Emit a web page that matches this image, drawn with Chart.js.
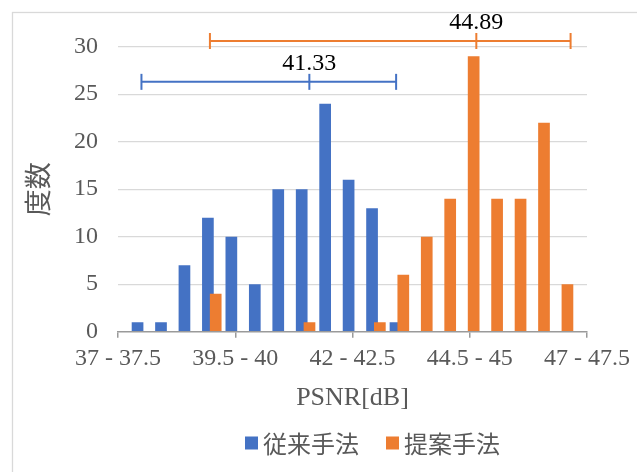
<!DOCTYPE html>
<html>
<head>
<meta charset="utf-8">
<script src="https://cdn.jsdelivr.net/npm/chart.js@4/dist/chart.umd.min.js"></script>
<style>
  html, body { margin: 0; padding: 0; background: #ffffff; }
  #wrap { width: 637px; height: 472px; }
</style>
</head>
<body>
<div id="wrap"><canvas id="chart" width="637" height="472"></canvas></div>
<script>
// PSNR histogram bins (0.5 dB wide): label and centre of each bin
const binLabels = [
  '37 - 37.5', '37.5 - 38', '38 - 38.5', '38.5 - 39', '39 - 39.5',
  '39.5 - 40', '40 - 40.5', '40.5 - 41', '41 - 41.5', '41.5 - 42',
  '42 - 42.5', '42.5 - 43', '43 - 43.5', '43.5 - 44', '44 - 44.5',
  '44.5 - 45', '45 - 45.5', '45.5 - 46', '46 - 46.5', '46.5 - 47',
  '47 - 47.5'
];
const binCenters = [
  37.25, 37.75, 38.25, 38.75, 39.25, 39.75, 40.25, 40.75, 41.25, 41.75,
  42.25, 42.75, 43.25, 43.75, 44.25, 44.75, 45.25, 45.75, 46.25, 46.75,
  47.25
];
const seriesNames = ['従来手法', '提案手法'];
const conventionalCounts = [0, 1, 1, 7, 12, 10, 5, 15, 15, 24, 16, 13, 1, 0, 0, 0, 0, 0, 0, 0, 0];
const proposedCounts     = [0, 0, 0, 0, 4, 0, 0, 0, 1, 0, 0, 1, 6, 10, 14, 29, 14, 14, 22, 5, 0];

// mean with min..max range of each method (dB), and the count level each range is drawn at
const meanPsnr   = [41.33, 44.89];
const minPsnr    = [37.75, 39.21];
const maxPsnr    = [43.18, 46.9];
const rangeLevel = [26.3, 30.6];

const yTicks = [0, 5, 10, 15, 20, 25, 30];
const xTickEvery = 5;

const BLUE = '#4472C4';
const ORANGE = '#ED7D31';
const TEXT = '#595959';
const AXIS = '#9a9a9a';
const GRID = '#d9d9d9';
const SERIF = "'Liberation Serif', 'Times New Roman', serif";
const CJK = "'Noto Sans CJK JP', 'Noto Sans CJK SC', sans-serif";

function histogram(counts) {
  return binCenters.map((x, i) => ({ x, y: counts[i] }));
}

function barDataset(i, counts, color) {
  return {
    label: seriesNames[i],
    data: histogram(counts),
    backgroundColor: color,
    borderWidth: 0,
    categoryPercentage: 0.665,
    barPercentage: 1.5
  };
}

function rangeDataset(i, color) {
  return {
    type: 'line',
    label: seriesNames[i] + ' range',
    data: [
      { x: minPsnr[i], y: rangeLevel[i] },
      { x: meanPsnr[i], y: rangeLevel[i] },
      { x: maxPsnr[i], y: rangeLevel[i] }
    ],
    borderColor: color,
    borderWidth: 2,
    pointStyle: 'line',
    pointRotation: 90,
    pointRadius: 8,
    pointHoverRadius: 8,
    pointBorderWidth: 2,
    pointBorderColor: color,
    pointBackgroundColor: color,
    fill: false,
    clip: false,
    isRange: true,
    meanIndex: i
  };
}

// white background and the light frame round the chart
const framePlugin = {
  id: 'frame',
  beforeDraw(chart) {
    const ctx = chart.ctx;
    ctx.save();
    ctx.fillStyle = '#ffffff';
    ctx.fillRect(0, 0, chart.width, chart.height);
    ctx.strokeStyle = '#d9d9d9';
    ctx.lineWidth = 1.3;
    ctx.strokeRect(12.5, 12.5, chart.width + 40, chart.height + 40);
    ctx.restore();
  }
};

// draw datasets in index order so later series sit on top of earlier ones
const drawOrderPlugin = {
  id: 'drawOrder',
  beforeDatasetsDraw(chart) {
    chart.getSortedVisibleDatasetMetas().forEach(meta => chart._drawDataset(meta));
    return false;
  }
};

// mean value labels above each range bar
const meanLabelPlugin = {
  id: 'meanLabels',
  afterDraw(chart) {
    const ctx = chart.ctx;
    const xs = chart.scales.x;
    const ys = chart.scales.y;
    ctx.save();
    ctx.font = '24px ' + SERIF;
    ctx.fillStyle = '#000000';
    ctx.textAlign = 'center';
    ctx.textBaseline = 'middle';
    chart.data.datasets.forEach(ds => {
      if (!ds.isRange) return;
      const i = ds.meanIndex;
      const px = xs.getPixelForValue(meanPsnr[i]);
      const py = ys.getPixelForValue(rangeLevel[i]);
      ctx.fillText(meanPsnr[i].toFixed(2), px, py - 18.5);
    });
    ctx.restore();
  }
};

// legend below the axis title
const legendPlugin = {
  id: 'bottomLegend',
  afterDraw(chart) {
    const ctx = chart.ctx;
    const items = chart.data.datasets.filter(ds => !ds.isRange);
    const box = 13, gap = 5, itemGap = 27;
    ctx.save();
    ctx.font = '24px ' + CJK;
    const widths = items.map(ds => ctx.measureText(ds.label).width);
    const total = widths.reduce((s, w) => s + box + gap + w, 0) + itemGap * (items.length - 1);
    let x = 372.5 - total / 2;
    const y = 443;
    ctx.textBaseline = 'middle';
    ctx.textAlign = 'left';
    items.forEach((ds, i) => {
      ctx.fillStyle = ds.backgroundColor;
      ctx.fillRect(x, y - box / 2, box, box);
      x += box + gap;
      ctx.fillStyle = TEXT;
      ctx.fillText(ds.label, x, y + 1);
      x += widths[i] + itemGap;
    });
    ctx.restore();
  }
};

new Chart(document.getElementById('chart'), {
  type: 'bar',
  data: {
    datasets: [
      barDataset(0, conventionalCounts, BLUE),
      barDataset(1, proposedCounts, ORANGE),
      rangeDataset(0, BLUE),
      rangeDataset(1, ORANGE)
    ]
  },
  options: {
    responsive: false,
    animation: false,
    events: [],
    layout: { padding: { top: 46.7, right: 50, bottom: 0, left: 0 } },
    plugins: {
      legend: { display: false },
      tooltip: { enabled: false }
    },
    scales: {
      x: {
        type: 'linear',
        offset: false,
        min: binCenters[0],
        max: binCenters[binCenters.length - 1],
        afterBuildTicks(s) {
          s.ticks = binCenters
            .filter((_, i) => i % xTickEvery === 0)
            .map(v => ({ value: v }));
        },
        grid: {
          offset: false,
          drawOnChartArea: false,
          tickLength: 6,
          lineWidth: 1.5,
          color: AXIS
        },
        border: { display: true, color: AXIS, width: 1.5 },
        ticks: {
          autoSkip: false,
          maxRotation: 0,
          minRotation: 0,
          padding: 7,
          color: TEXT,
          font: { family: SERIF, size: 24 },
          callback(value) {
            const i = binCenters.indexOf(value);
            return i >= 0 ? binLabels[i] : '';
          }
        },
        title: {
          display: true,
          text: 'PSNR[dB]',
          color: TEXT,
          font: { family: SERIF, size: 26 },
          padding: { top: 0, bottom: 58.4 }
        },
        afterFit(s) {
          s.height = 140.3;
          s.paddingLeft = 0;
          s.paddingRight = 0;
        }
      },
      y: {
        min: 0,
        max: 30,
        afterBuildTicks(s) {
          s.ticks = yTicks.map(v => ({ value: v }));
        },
        ticks: {
          padding: 20,
          color: TEXT,
          font: { family: SERIF, size: 24 }
        },
        grid: {
          drawTicks: false,
          lineWidth: 1.3,
          color: c => (c.tick && c.tick.value === 0 ? 'rgba(0,0,0,0)' : GRID)
        },
        border: { display: false },
        title: {
          display: true,
          text: '度数',
          color: TEXT,
          font: { family: CJK, size: 27 },
          padding: { top: 21.3, bottom: 0 }
        },
        afterFit(s) {
          s.width = 118;
          s.paddingTop = 0;
          s.paddingBottom = 0;
        }
      }
    }
  },
  plugins: [framePlugin, drawOrderPlugin, meanLabelPlugin, legendPlugin]
});
</script>
</body>
</html>
